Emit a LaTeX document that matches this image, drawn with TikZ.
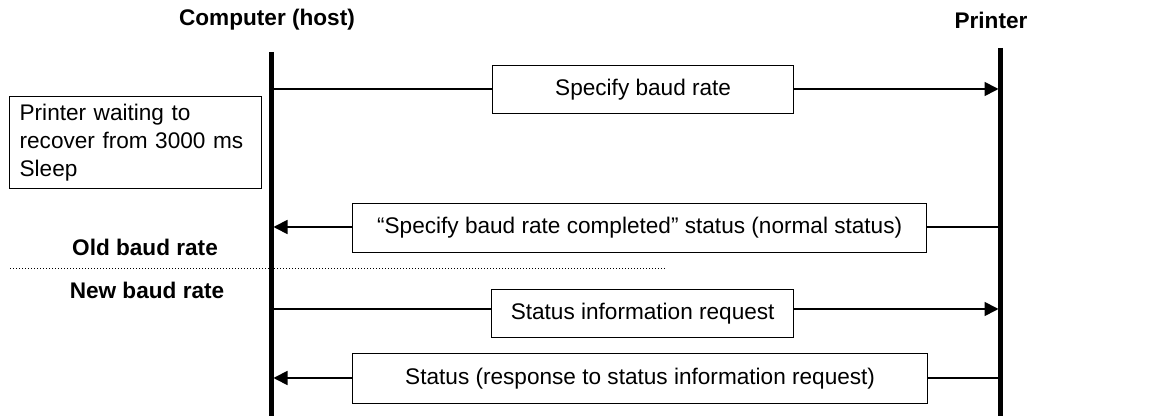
\documentclass[tikz,border=0pt]{standalone}
\usepackage{fontspec}
\setmainfont{Liberation Sans}
\usetikzlibrary{arrows.meta}
\begin{document}
\begin{tikzpicture}[x=0.5pt,y=-0.5pt,
  every node/.style={font=\fontsize{11.3}{13}\selectfont},
  msgbox/.style={draw, line width=0.65pt, inner sep=0pt, anchor=north west},
  lifeline/.style={line width=2.25pt},
  msg/.style={line width=0.85pt},
  msgarrow/.style={line width=0.85pt, -{Triangle[length=7pt,width=7pt]}},
  title/.style={font=\fontsize{11.3}{13}\selectfont\bfseries},
  sep/.style={line width=0.5pt, dash pattern=on 0.5pt off 1pt}]
\useasboundingbox (0,0) rectangle (1158,416);
% lifelines
\coordinate (HT) at (271.5,52);
\coordinate (HB) at (271.5,416);
\coordinate (PT) at (1000.5,48);
\coordinate (PB) at (1000.5,416);
\draw[lifeline] (HT) -- (HB);
\draw[lifeline] (PT) -- (PB);
% titles
\node[title] (host) at (267,20) {Computer (host)};
\node[title] (printer) at (991,20) {Printer};
\node[title] (old) at (145,247) {Old baud rate};
\node[title] (new) at (147,290) {New baud rate};
% left note
\node[msgbox, text width=116pt, inner xsep=5pt, inner ysep=0pt, align=left,
      font=\fontsize{11.3}{14}\selectfont,
      minimum height=46pt] (note) at (9,96) {\raisebox{-1.5pt}{Printer waiting to}\\\raisebox{-1.5pt}{recover from 3000 ms}\\\raisebox{-1.5pt}{Sleep}};
% separator
\coordinate (S1) at (10,269);
\coordinate (S2) at (667,269);
\draw[sep] (S1) -- (S2);
% message boxes
\node[msgbox, minimum width=150.5pt, minimum height=24pt] (b1) at (492,65) {Specify baud rate};
\node[msgbox, minimum width=287pt, minimum height=24.5pt] (b2) at (352,203) {\char"201CSpecify baud rate completed\char"201D{} status (normal status)};
\node[msgbox, minimum width=151pt, minimum height=24pt] (b3) at (491,289) {Status information request};
\node[msgbox, minimum width=287.5pt, minimum height=25pt] (b4) at (352,353) {Status (response to status information request)};
% message connectors
\coordinate (h1) at (273.5,89);  \coordinate (p1) at (998.5,89);
\coordinate (h2) at (273.5,227); \coordinate (p2) at (998.5,227);
\coordinate (h3) at (273.5,309); \coordinate (p3) at (998.5,309);
\coordinate (h4) at (273.5,378); \coordinate (p4) at (998.5,378);
\draw[msg] (h1) -- (b1.west |- h1);
\draw[msgarrow] (b1.east |- h1) -- (p1);
\draw[msg] (p2) -- (b2.east |- p2);
\draw[msgarrow] (b2.west |- p2) -- (h2);
\draw[msg] (h3) -- (b3.west |- h3);
\draw[msgarrow] (b3.east |- h3) -- (p3);
\draw[msg] (p4) -- (b4.east |- p4);
\draw[msgarrow] (b4.west |- p4) -- (h4);
\end{tikzpicture}
\end{document}
